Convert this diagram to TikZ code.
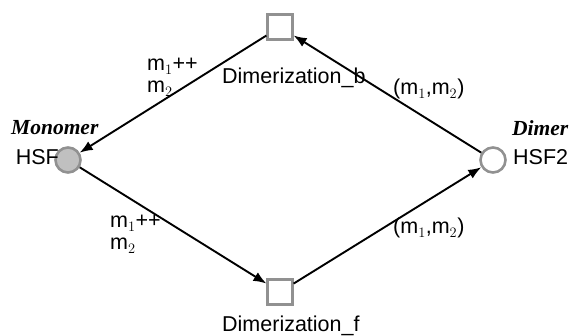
\documentclass[tikz,border=0pt]{standalone}
\usepackage{fontspec}
\setmainfont{Liberation Sans}
\newfontfamily\labelserif{Liberation Serif}
\usetikzlibrary{arrows.meta}
\definecolor{pnstroke}{RGB}{145,145,145}
\definecolor{pnfill}{RGB}{192,192,192}
\tikzset{
  pnplace/.style ={circle, draw=pnstroke, fill=white, line width=2.6pt,
                   minimum size=25pt, inner sep=0pt},
  pnfull/.style  ={pnplace, fill=pnfill},
  pntrans/.style ={rectangle, draw=pnstroke, fill=white, line width=2.2pt,
                   minimum size=25pt, inner sep=0pt},
  pnarc/.style   ={-{Latex[length=13pt, width=10pt]}, line width=1.9pt, black},
  pntext/.style  ={inner sep=0pt, anchor=base west, font=\fontsize{21.5}{19}\selectfont},
  pnname/.style  ={pntext, font=\fontsize{21.5}{19}\selectfont\labelserif\bfseries\itshape},
  pnlabel/.style ={pntext, align=left},
}
\begin{document}
\begin{tikzpicture}[x=1pt, y=-1pt]
    \useasboundingbox (0,0) rectangle (573,336);
    % places and transitions
    \node[pnfull]  (Monomer) at (68,160)  {};
    \node[pnplace] (Dimer)   at (493,160) {};
    \node[pntrans] (DimB)    at (280,27)  {};
    \node[pntrans] (DimF)    at (280,292) {};
    % names
    \node[pntext, anchor=base east] (MonoId) at (59,165)  {HSF};
    \node[pnname]                   (MonoNm) at (11,135)  {Monomer};
    \node[pntext]                   (DimId)  at (513,165) {HSF2};
    \node[pnname]                   (DimNm)  at (512,136) {Dimer};
    \node[pntext]                   (DimBId) at (222,84)  {Dimerization\_b};
    \node[pntext]                   (DimFId) at (222,332) {Dimerization\_f};
    % arcs
    \draw[pnarc] (DimB)    -- (Monomer);
    \draw[pnarc] (Dimer)   -- (DimB);
    \draw[pnarc] (Monomer) -- (DimF);
    \draw[pnarc] (DimF)    -- (Dimer);
    % arc inscriptions
    \node[pnlabel] (InsBM) at (147,93)  {m$_1$++\\[3pt]m$_2$};
    \node[pnlabel] (InsMF) at (110,250) {m$_1$++\\[3pt]m$_2$};
    \node[pntext]  (InsDB) at (393,95)  {(m$_1$,m$_2$)};
    \node[pntext]  (InsFD) at (393,234) {(m$_1$,m$_2$)};
\end{tikzpicture}
\end{document}
